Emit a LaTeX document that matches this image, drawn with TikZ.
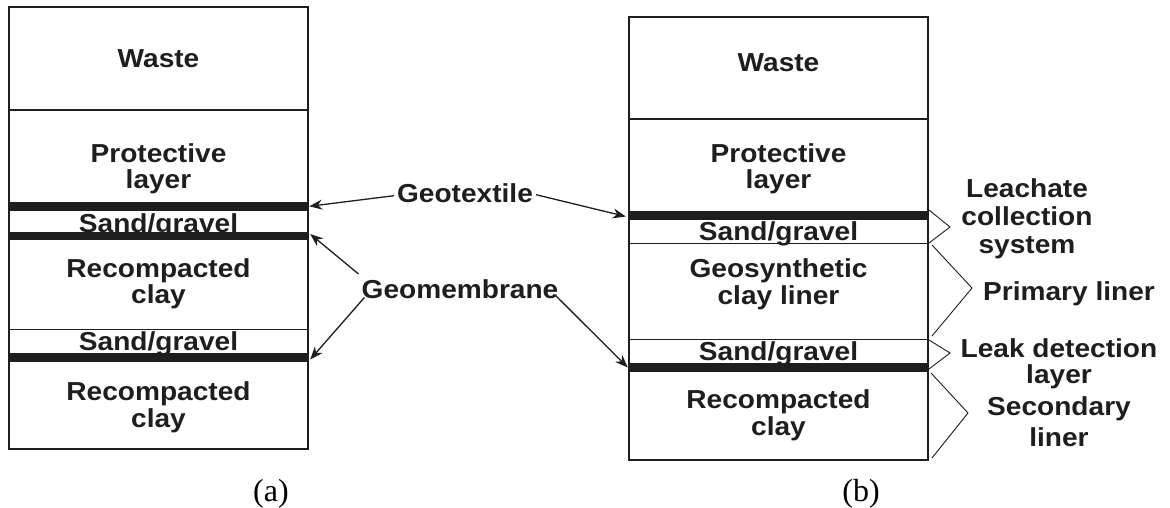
\documentclass[tikz,border=0pt]{standalone}
\usepackage{fontspec}
\setmainfont{Liberation Sans}[FakeStretch=1.08]
\newfontfamily\capfont{Liberation Serif}
\usetikzlibrary{arrows.meta}
\definecolor{ink}{HTML}{1E1E1E}
\tikzset{
  lbl/.style={anchor=base, inner sep=3pt, text=ink, font=\fontsize{26}{27}\selectfont\bfseries},
  captxt/.style={anchor=base, inner sep=2pt, text=black, font=\capfont\fontsize{32}{34}\selectfont},
  outer/.style={draw=ink, line width=1.5pt},
  thin/.style={draw=ink, line width=0.9pt},
  band/.style={fill=ink, draw=none, inner sep=0pt, minimum width=299pt},
  arr/.style={draw=ink, line width=1.3pt, -{Stealth[length=13pt,width=10pt]}},
  brace/.style={draw=ink, line width=0.9pt},
}
\begin{document}
\begin{tikzpicture}[x=1pt,y=-1pt]
\useasboundingbox (0,0) rectangle (1170,508);
% ---------------- (a) single liner ----------------
\draw[outer] (9,7) rectangle (308,449);
\draw[outer] (9,110) -- (308,110);
\draw[thin] (9,329) -- (308,329);
\node[lbl] (aw) at (158.5,68) {Waste};
\node[lbl] (ap1) at (158.5,162) {Protective};
\node[lbl] (ap2) at (158.5,189) {layer};
\node[lbl] (as1) at (158.5,232) {Sand/gravel};
\node[lbl] (ar1) at (158.5,277) {Recompacted};
\node[lbl] (ar2) at (158.5,303) {clay};
\node[lbl] (as2) at (158.5,350) {Sand/gravel};
\node[lbl] (ar3) at (158.5,400) {Recompacted};
\node[lbl] (ar4) at (158.5,427) {clay};
\node[band, minimum height=9pt] (agt) at (158.5,206.3) {};
\node[band, minimum height=8pt] (agm1) at (158.5,236) {};
\node[band, minimum height=8.5pt] (agm2) at (158.5,357.5) {};
% ---------------- (b) double liner ----------------
\draw[outer] (629,17) rectangle (928,460);
\draw[outer] (629,119) -- (928,119);
\draw[thin] (629,243) -- (928,243);
\draw[thin] (629,339) -- (928,339);
\node[lbl] (bw) at (778.5,72) {Waste};
\node[lbl] (bp1) at (778.5,162) {Protective};
\node[lbl] (bp2) at (778.5,189) {layer};
\node[lbl] (bs1) at (778.5,240) {Sand/gravel};
\node[lbl] (bg1) at (778.5,277) {Geosynthetic};
\node[lbl] (bg2) at (778.5,304) {clay liner};
\node[lbl] (bs2) at (778.5,360) {Sand/gravel};
\node[lbl] (br1) at (778.5,408) {Recompacted};
\node[lbl] (br2) at (778.5,435) {clay};
\node[band, minimum height=9pt] (bgt) at (778.5,215.5) {};
\node[band, minimum height=9pt] (bgm) at (778.5,367.5) {};
% ---------------- middle labels and arrows ----------------
\node[lbl] (geotex) at (465,202) {Geotextile};
\node[lbl] (geomem) at (460,298) {Geomembrane};
\draw[arr] ([yshift=-3pt]geotex.west) -- ([xshift=1pt]agt.east);
\draw[arr] ([yshift=-2pt]geotex.east) -- ([xshift=-3pt,yshift=-1pt]bgt.west);
\draw[arr] ([yshift=2pt]geomem.north west) -- ([xshift=2pt,yshift=2pt]agm1.east);
\draw[arr] ([xshift=6pt,yshift=4pt]geomem.south west) -- ([xshift=2pt,yshift=-2pt]agm2.east);
\draw[arr] ([xshift=-6pt,yshift=6pt]geomem.south east) -- ([xshift=-1pt]bgm.west);
% ---------------- right labels and braces ----------------
\node[lbl] (lc1) at (1027,197) {Leachate};
\node[lbl] (lc2) at (1027,225) {collection};
\node[lbl] (lc3) at (1027,253) {system};
\node[lbl, anchor=base west] (pl) at (980,300) {Primary liner};
\node[lbl] (ld1) at (1059,357) {Leak detection};
\node[lbl] (ld2) at (1059,383) {layer};
\node[lbl] (sl1) at (1059,415) {Secondary};
\node[lbl] (sl2) at (1059,446) {liner};
\coordinate (b1a) at (929,210);  \coordinate (b1t) at (950,227); \coordinate (b1b) at (929,243);
\coordinate (b2a) at (932,245);  \coordinate (b2t) at (972,288); \coordinate (b2b) at (932,336);
\coordinate (b3a) at (929,340);  \coordinate (b3t) at (950,353); \coordinate (b3b) at (929,369);
\coordinate (b4a) at (931,373);  \coordinate (b4t) at (968,413); \coordinate (b4b) at (932,458);
\draw[brace] (b1a) -- (b1t) -- (b1b);
\draw[brace] (b2a) -- (b2t) -- (b2b);
\draw[brace] (b3a) -- (b3t) -- (b3b);
\draw[brace] (b4a) -- (b4t) -- (b4b);
% ---------------- captions ----------------
\node[captxt] (capa) at (271,501) {(a)};
\node[captxt] (capb) at (861,501) {(b)};
\end{tikzpicture}
\end{document}
